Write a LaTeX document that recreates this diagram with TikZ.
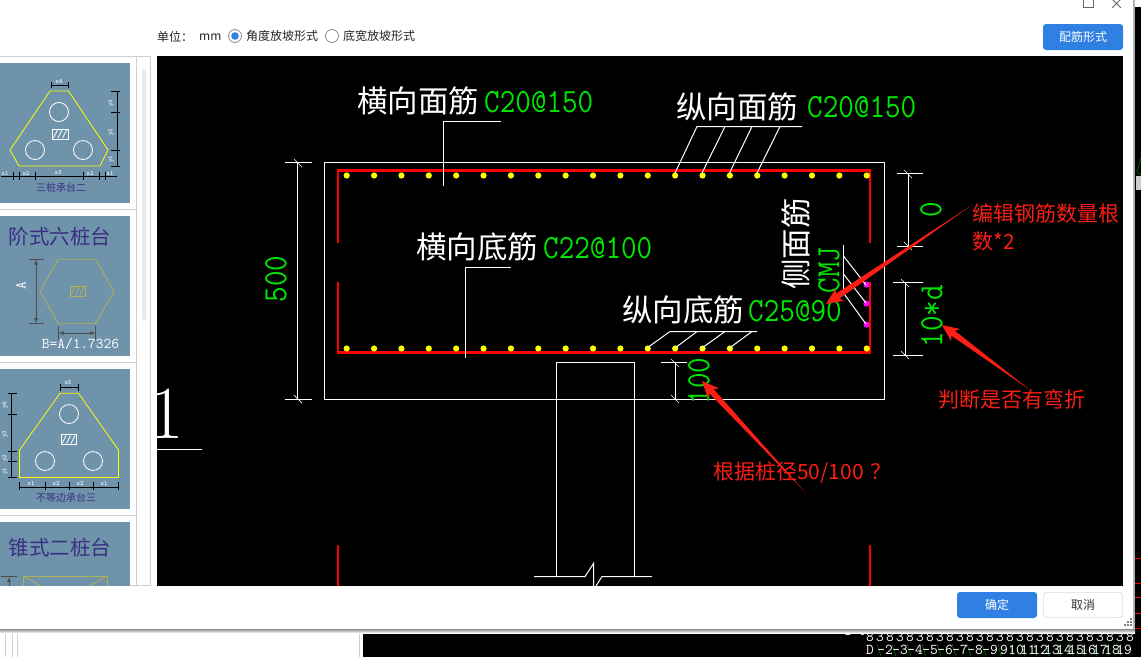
\documentclass[tikz,border=0pt]{standalone}
\usepackage{fontspec}
\newfontfamily\cjk{Noto Sans CJK SC}
\newfontfamily\cadfont[FakeStretch=0.89]{Latin Modern Mono}
\usetikzlibrary{calc}

\definecolor{cadgreen}{RGB}{0,230,0}
\definecolor{cadred}{RGB}{255,0,0}
\definecolor{cadyellow}{RGB}{255,255,0}
\definecolor{cadpink}{RGB}{255,0,255}
\definecolor{noteRed}{RGB}{250,30,20}
\definecolor{cardblue}{RGB}{111,147,171}
\definecolor{cardink}{RGB}{58,48,130}
\definecolor{dimyellow}{RGB}{176,176,84}
\definecolor{btnblue}{RGB}{47,128,226}
\definecolor{panelgrey}{RGB}{208,208,208}

\tikzset{
    cadline/.style={white,line width=1pt},
    rebar/.style={cadred,line width=2.5pt},
    cadlabel/.style={text=white,inner sep=0pt,anchor=west,font=\cjk\fontsize{30.5}{31}\selectfont},
    cadvalue/.style={text=cadgreen,inner sep=0pt,anchor=west,font=\cadfont\fontsize{34}{34}\selectfont},
    notetext/.style={text=noteRed,inner sep=0pt,anchor=west,font=\cjk\fontsize{21}{28}\selectfont},
    uitext/.style={text=black!85,inner sep=0pt,anchor=west,font=\cjk\fontsize{12}{12}\selectfont},
    cardtitle/.style={text=cardink,inner sep=0pt,font=\cjk\fontsize{20.5}{21}\selectfont},
    cardcaption/.style={text=cardink,inner sep=0pt,font=\cjk\fontsize{10}{10}\selectfont},
    cardtag/.style={text=white,inner sep=0pt,font=\ttfamily\bfseries\fontsize{6.5}{6.5}\selectfont},
    carddim/.style={black,line width=0.8pt},
    hollow/.style={white,line width=0.8pt},
    polyline/.style={cadyellow,line width=0.8pt},
    backrow/.style={text=white,inner sep=0pt,font=\ttfamily\fontsize{15}{15}\selectfont},
}

% slanted end marks of a dimension line
\newcommand{\dimslash}[2]{\draw[white,line width=0.7pt] (#1-4,#2-4) -- (#1+4,#2+4);}
% hatched column mark of a card
\newcommand{\hatchbox}[3]{
    \draw[#3,line width=0.8pt] (#1,#2) rectangle (#1+15.5,#2+10);
    \foreach \s in {3,7.5,12}
        \draw[#3,line width=0.7pt] (#1+\s-2,#2+9) -- (#1+\s+2,#2+1);
}
% hand drawn red arrow, thin at its tail
\newcommand{\notearrow}[2]{
    \coordinate (neck) at ($(#2)!17pt!(#1)$);
    \coordinate (throat) at ($(#2)!14pt!(#1)$);
    \fill[noteRed] (#1) -- ($(throat)!3pt!90:(#1)$) -- ($(neck)!7.5pt!90:(#1)$) -- (#2)
        -- ($(neck)!7.5pt!-90:(#1)$) -- ($(throat)!3pt!-90:(#1)$) -- cycle;
}

\begin{document}
\begin{tikzpicture}[x=1pt,y=-1pt]
\useasboundingbox (0,0) rectangle (1141,657);

% what lies behind the dialog
\fill[white] (0,0) rectangle (1141,657);
\fill[black] (363,630) rectangle (1141,657);
\fill[black] (1135,7) rectangle (1141,657);
\foreach \x in {5,12,17,359}
    \draw[panelgrey] (\x,630) -- (\x,657);
\foreach \y in {558,583,597,613,628}
    \draw[cadred] (1135,\y) -- (1141,\y);
\draw[green!60!black] (1137,172) -- (1141,158) (1137,172) -- (1141,175);
\fill[white!80!black] (1136,176) rectangle (1141,190);
\node[backrow,anchor=west] (tagP) at (845,631) {D-P};
\foreach \x [count=\n] in {870,880,...,1130}
    \node[backrow] (rowA\n) at (\x,637) {\ifodd\n\relax 8\else 3\fi};
\node[backrow] (rowD) at (870,650) {D};
\foreach \x [count=\n from 2] in {885,900,...,990}
{
    \draw[green!60!black] (\x-8,644) -- (\x-4,656);
    \node[backrow] (rowB\n) at (\x,650) {-\n};
}
\foreach \x [count=\n from 9] in {1004,1016,...,1130}
{
    \draw[green!60!black] (\x-6,644) -- (\x-3,656);
    \node[backrow] (rowC\n) at (\x,650) {\n};
}

% dialog
\shade[top color=black!45,bottom color=white] (0,629) rectangle (1135,633);
\fill[black!30] (1133,0) rectangle (1135,629);
\fill[white] (0,0) rectangle (1133,629);
\draw[black!60,line width=0.8pt] (1083.5,-1) rectangle (1093.5,7);
\draw[black!60,line width=0.8pt] (1112,-1) -- (1121,8) (1121,-1) -- (1112,8);
\foreach \x/\y in {1130/618,1127/621,1130/621,1124/624,1127/624,1130/624}
    \fill[black!50] (\x,\y) rectangle (\x+2,\y+2);

% toolbar
\node[uitext] (unitName) at (157,37) {单位：};
\node[uitext] (unitValue) at (199,37) {mm};
\draw[black!45,line width=0.8pt,fill=white] (235,36) circle (6.5);
\fill[btnblue] (235,36) circle (3.8);
\node[uitext] (formAngle) at (246,36) {角度放坡形式};
\draw[black!45,line width=0.8pt,fill=white] (332,36) circle (6.5);
\node[uitext] (formWidth) at (343,36) {底宽放坡形式};
\fill[btnblue,rounded corners=3pt] (1043,24) rectangle (1123,50);
\node[text=white,inner sep=0pt,font=\cjk\fontsize{12}{12}\selectfont] (btnForm) at (1083,37) {配筋形式};
\fill[btnblue,rounded corners=3pt] (957,592) rectangle (1037,618);
\node[text=white,inner sep=0pt,font=\cjk\fontsize{12}{12}\selectfont] (btnOk) at (997,605) {确定};
\draw[black!25,rounded corners=3pt,fill=white] (1043.5,592.5) rectangle (1122.5,617.5);
\node[text=black!80,inner sep=0pt,font=\cjk\fontsize{12}{12}\selectfont] (btnNo) at (1083,605) {取消};

% left panel
\draw[panelgrey,line width=0.8pt] (-1,56.5) -- (150.5,56.5) -- (150.5,585.5) -- (-1,585.5);
\draw[panelgrey,line width=0.8pt] (136.5,56.5) -- (136.5,585.5);
\foreach \y in {209,362,515}
    \draw[panelgrey,line width=0.8pt] (0,\y) -- (136,\y);
\fill[black!8,rounded corners=2pt] (142,69) rectangle (146,321);

\fill[cardblue] (0,63) rectangle (130,203);
\draw[polyline] (50,91) -- (68.5,91) -- (108,150) -- (100,166) -- (19,166) -- (10,150) -- cycle;
\draw[hollow] (59,112) circle (9.5) (35,150) circle (9.5) (83,150) circle (9.5);
\hatchbox{52.5}{129}{white}
\draw[carddim] (51,85) -- (68.5,85) (51,82) -- (51,88) (68.5,82) -- (68.5,88);
\draw[carddim] (117.5,91) -- (117.5,166);
\foreach \y in {91,112.5,150.5,166}
    \draw[carddim] (111,\y) -- (120,\y);
\draw[carddim] (1,176.5) -- (117,176.5);
\foreach \x in {13.5,19.5,35.5,83.5,99.5,105.5}
    \draw[carddim] (\x,172) -- (\x,180);
\node[cardtag] (tagTa) at (5,173) {x1};
\node[cardtag] (tagTb) at (26,173) {x2};
\node[cardtag] (tagTc) at (58,173) {x3};
\node[cardtag] (tagTd) at (90,173) {x2};
\node[cardtag] (tagTe) at (110,173) {x1};
\node[cardtag] (tagTf) at (59,81) {x4};
\node[cardtag,rotate=90] (tagTg) at (111,103) {y3};
\node[cardtag,rotate=90] (tagTh) at (111,132) {y2};
\node[cardtag,rotate=90] (tagTi) at (111,159) {y1};
\node[cardcaption] (capThree) at (61,187.5) {三桩承台二};

\fill[cardblue] (0,216) rectangle (130,356);
\node[cardtitle] (titleSix) at (60,237) {阶式六桩台};
\draw[dimyellow,line width=0.8pt] (40.3,291.3) -- (58,259.3) -- (95.7,259.3) -- (114,291.3) -- (95.7,323.3) -- (58,323.3) -- cycle;
\hatchbox{70}{286}{dimyellow}
\draw[black!70,line width=0.8pt] (29,259.3) -- (44,259.3) (29,323.3) -- (44,323.3);
\draw[black!70,line width=0.8pt,<->,>=latex] (36,259.3) -- (36,323.3);
\draw[black!70,line width=0.8pt] (58.5,326) -- (58.5,340) (95.5,326) -- (95.5,340);
\draw[black!70,line width=0.8pt,<->,>=latex] (58.5,333) -- (95.5,333);
\node[text=white,inner sep=0pt,rotate=90,font=\ttfamily\fontsize{15}{15}\selectfont] (dimA) at (21,286) {A};
\node[text=white,inner sep=0pt,font=\ttfamily\fontsize{15}{15}\selectfont] (dimB) at (80.5,344) {B=A/1.7326};

\fill[cardblue] (0,369) rectangle (130,509);
\draw[polyline] (60,393.3) -- (78.5,393.3) -- (118.5,450) -- (118.5,477.5) -- (19.5,477.5) -- (19.5,450) -- cycle;
\draw[hollow] (69,414) circle (9.5) (45,461) circle (9.5) (93,461) circle (9.5);
\hatchbox{61}{434.5}{white}
\draw[carddim] (60.5,387.5) -- (78.5,387.5) (60.5,384) -- (60.5,391) (78.5,384) -- (78.5,391);
\draw[carddim] (11.5,393.5) -- (11.5,477.5);
\foreach \y in {393.5,414,451,461,477.5}
    \draw[carddim] (8,\y) -- (17,\y);
\draw[carddim] (19.5,487.5) -- (118.5,487.5);
\foreach \x in {19.5,45.5,69.5,93.5,118.5}
    \draw[carddim] (\x,482) -- (\x,490);
\node[cardtag] (tagUa) at (31,483) {x1};
\node[cardtag] (tagUb) at (56,483) {x2};
\node[cardtag] (tagUc) at (80,483) {x2};
\node[cardtag] (tagUd) at (104,483) {x1};
\node[cardtag] (tagUe) at (68,383) {x5};
\node[cardtag,rotate=90] (tagUf) at (5,405) {y4};
\node[cardtag,rotate=90] (tagUg) at (5,434) {y3};
\node[cardtag,rotate=90] (tagUh) at (5,458) {y2};
\node[cardtag,rotate=90] (tagUi) at (5,471) {y1};
\node[cardcaption] (capUneven) at (66,498) {不等边承台三};

\begin{scope}
\clip (0,515) rectangle (136,585);
\fill[cardblue] (0,522) rectangle (130,586);
\node[cardtitle] (titleCone) at (60,548) {锥式二桩台};
\draw[dimyellow,line width=0.8pt] (23.5,576) rectangle (107,600);
\draw[dimyellow,line width=0.8pt] (23.5,576) -- (41,586) (107,576) -- (89,586);
\draw[black!70,line width=0.8pt] (1,576) -- (17,576);
\draw[black!70,line width=0.8pt,<-,>=latex] (9,577) -- (9,590);
\end{scope}

% drawing area
\fill[black] (157,56) rectangle (1123,586);

\begin{scope}
\clip (157,380) rectangle (210,460);
\node[text=white,inner sep=0pt,font=\rmfamily\fontsize{75}{75}\selectfont] (sheetNo) at (167,414) {1};
\end{scope}
\draw[cadline] (157,449.5) -- (202,449.5);

% cap outline and pile
\draw[cadline] (324.5,162.5) rectangle (884.5,399.5);
\draw[cadline] (534,576.5) -- (585,576.5) -- (593.5,563.5) -- (593.5,586);
\draw[cadline] (596,586) -- (602,576.5) -- (652,576.5);
\draw[cadline] (556.5,576.5) -- (556.5,362.5) -- (634.5,362.5) -- (634.5,576.5);

% rebar
\draw[rebar] (338,243) -- (338,170.5) -- (870,170.5) -- (870,243);
\draw[rebar] (338,281.5) -- (338,352.5) -- (870,352.5) -- (870,281.5);
\draw[rebar] (338,545) -- (338,586);
\draw[rebar] (870,545) -- (870,586);

\def\barstep{27.37}
\foreach \i in {0,...,19}
{
    \fill[cadyellow] (346.7+\i*\barstep,175.5) circle (3.1);
    \fill[cadyellow] (346.7+\i*\barstep,348.5) circle (3.1);
}
\foreach \y in {284.5,303.5,324.5}
    \fill[cadpink] (866.5,\y) circle (3.1);

% leaders
\draw[cadline] (501,121.5) -- (443.5,121.5) -- (443.5,186);
\draw[cadline] (802,126.5) -- (697,126.5) -- (675,173);
\draw[cadline] (725,126.5) -- (702,173);
\draw[cadline] (752,126.5) -- (729.5,173);
\draw[cadline] (780,126.5) -- (757,173);
\draw[cadline] (511,267.5) -- (465.5,267.5) -- (465.5,358);
\draw[cadline] (757,331.5) -- (670,331.5) -- (647,348);
\draw[cadline] (697,331.5) -- (675,348);
\draw[cadline] (725,331.5) -- (702,348);
\draw[cadline] (752,331.5) -- (729.5,348);
\draw[cadline] (843.5,245) -- (843.5,293);
\draw[cadline] (843.5,256) -- (866,285);
\draw[cadline] (843.5,274) -- (866,303);
\draw[cadline] (843.5,293) -- (866,324);

% dimensions
\draw[cadline] (285,162.5) -- (312,162.5) (285,399.5) -- (312,399.5) (297.5,162.5) -- (297.5,399.5);
\dimslash{298}{163}
\dimslash{298}{399}
\draw[cadline] (897,173.5) -- (923,173.5) (897,246.5) -- (923,246.5) (908,173.5) -- (908,246.5);
\dimslash{908}{174}
\dimslash{908}{246}
\draw[cadline] (893,282.5) -- (923,282.5) (893,355.5) -- (923,355.5) (905,282.5) -- (905,355.5);
\dimslash{905}{283}
\dimslash{905}{355}
\draw[cadline] (661,362.5) -- (687,362.5) (661,399) -- (687,399) (675.5,362.5) -- (675.5,399);
\dimslash{675}{363}
\dimslash{675}{399}

% labels
\node[cadlabel] (topCross) at (357,101) {横向面筋};
\node[cadvalue] (topCrossBar) at (484,102) {C20@150};
\node[cadlabel] (topLong) at (676,107) {纵向面筋};
\node[cadvalue] (topLongBar) at (807,107) {C20@150};
\node[cadlabel] (botCross) at (416,247) {横向底筋};
\node[cadvalue] (botCrossBar) at (543,248) {C22@100};
\node[cadlabel] (botLong) at (622,310) {纵向底筋};
\node[cadvalue] (botLongBar) at (748,311) {C25@90};
\node[cadlabel,anchor=center,rotate=90] (sideBar) at (796,244) {侧面筋};
\node[cadvalue,anchor=center,rotate=90] (sideMark) at (829,270) {CMJ};
\node[cadvalue,anchor=center,rotate=90] (dimDepth) at (276,279) {500};
\node[cadvalue,anchor=center,rotate=90] (dimZero) at (931,210) {0};
\node[cadvalue,anchor=center,rotate=90] (dimBend) at (932,316) {10*d};
\node[cadvalue,anchor=center,rotate=90] (dimCover) at (699,381) {100};

% notes
\node[notetext,align=left,text width=150pt] (noteCount) at (972,227) {编辑钢筋数量根\\数*2};
\node[notetext] (noteBend) at (938,399) {判断是否有弯折};
\node[notetext] (notePile) at (713,473) {根据桩径50/100\hspace{7pt}？};

\coordinate (tailA) at (972,205);
\coordinate (tipA) at (826,304);
\coordinate (tailB) at (1030,390);
\coordinate (tipB) at (942,325);
\coordinate (tailC) at (805,492);
\coordinate (tipC) at (702,381);
\notearrow{tailA}{tipA}
\notearrow{tailB}{tipB}
\notearrow{tailC}{tipC}

\end{tikzpicture}
\end{document}
